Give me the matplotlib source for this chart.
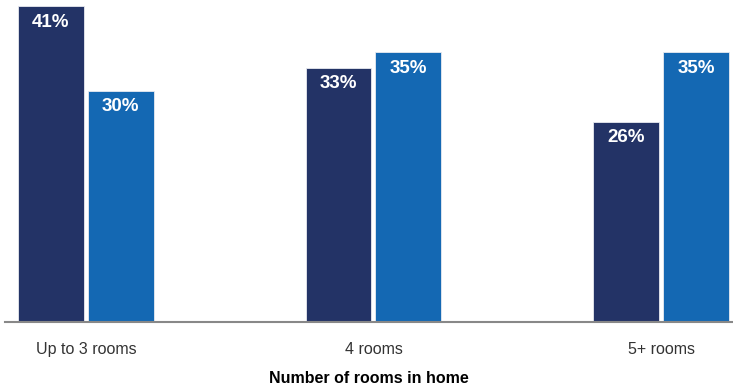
import matplotlib
matplotlib.use("Agg")
import matplotlib.pyplot as plt
import numpy as np

categories = ["Up to 3 rooms", "4 rooms", "5+ rooms"]
series_a = [41, 33, 26]
series_b = [30, 35, 35]
labels_a = ["41%", "33%", "26%"]
labels_b = ["30%", "35%", "35%"]

plt.rcParams['font.family'] = ['Liberation Sans', 'DejaVu Sans']

fig = plt.figure(figsize=(7.33, 3.87), dpi=100)
ax = fig.add_axes([5/733, 65/387, 728/733, 322/387])

x = np.arange(len(categories))
w = 0.229
off = 0.1215
c_dark = "#233366"
c_blue = "#1468b3"
ba = ax.bar(x - off, series_a, w, color=c_dark, edgecolor="#e8eaf0", linewidth=0.6)
bb = ax.bar(x + off, series_b, w, color=c_blue, edgecolor="#e8eaf0", linewidth=0.6)

for bars, labs in ((ba, labels_a), (bb, labels_b)):
    for r, t in zip(bars, labs):
        ax.annotate(t, (r.get_x() + r.get_width()/2, r.get_height()),
                    xytext=(0, -11.5), textcoords="offset points",
                    ha="center", va="center", color="white",
                    fontsize=13.5, fontweight="bold")

ax.set_xlim(-0.281, 2.25)
ax.set_ylim(0, 41.8)
ax.set_yticks([])
for s in ("top", "right", "left"):
    ax.spines[s].set_visible(False)
ax.spines["bottom"].set_color("#888888")
ax.spines["bottom"].set_linewidth(1.5)
ax.set_xticks(x)
ax.set_xticklabels(categories, fontsize=11.5, color="#333333")
ax.tick_params(axis="x", length=0, pad=14.5)
ax.set_xlabel("Number of rooms in home", fontsize=11.5, fontweight="bold", color="black", labelpad=10)

fig.savefig("out.png", dpi=100)
